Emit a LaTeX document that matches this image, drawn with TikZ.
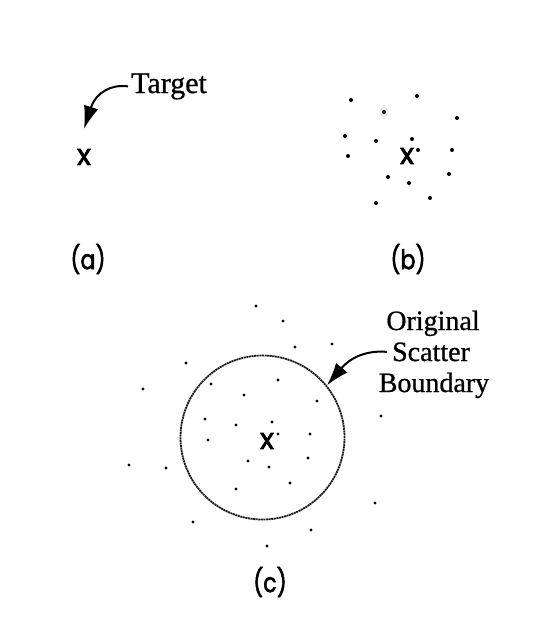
\documentclass[tikz,border=0pt]{standalone}
\usepackage{fontspec}
\setmainfont{Liberation Serif}
\newfontfamily\labfont[FakeBold=2.2]{Poppins}
\newfontfamily\txtfont[FakeBold=0.8]{Liberation Serif}
\usetikzlibrary{arrows.meta}
\tikzset{
  dotm/.style={circle,fill=black,inner sep=0pt,minimum size=4pt},
  xmark/.style={inner sep=0pt,font=\labfont\fontsize{29}{29}\selectfont},
  panel/.style={inner sep=0pt,font=\labfont\fontsize{27}{27}\selectfont},
  serif/.style={inner sep=0pt,font=\txtfont\fontsize{28}{28}\selectfont},
  pointer/.style={line width=2pt,-{Latex[length=23pt,width=15pt]}},
  boundary/.style={circle,draw=black!90,line width=1.8pt,dash pattern=on 2pt off 0.6pt,minimum size=164pt,inner sep=0pt}
}
\begin{document}
\begin{tikzpicture}[x=1pt,y=-1pt]
\useasboundingbox (0,0) rectangle (535,625);
% (a)
\node[xmark] (xa) at (84,157) {x};
\node[serif,anchor=base west,font=\txtfont\fontsize{30}{30}\selectfont] (tgt) at (131,93) {Target};
\coordinate (tgttip) at (84,129);
\draw[pointer] ([xshift=-3pt]tgt.west) .. controls (112,84) and (96,92) .. (tgttip);
\node[panel] (la) at (88,259) {\scalebox{0.82}[1]{(a)}};
% (b)
\node[xmark] (xb) at (407,156) {x};
\foreach \p [count=\i] in {(351,100),(417,96),(384,112),(457,118),(345,136),(376,141),(412,139),(418,150),(452,150),(348,156),(388,177),(449,174),(409,183),(430,198),(376,203)}
  \node[dotm] (b\i) at \p {};
\node[panel] (lb) at (408,259) {\scalebox{0.82}[1]{(b)}};
% (c)
\node[boundary] (bnd) at (262.5,437.5) {};
\node[xmark] (xc) at (267,441) {x};
\foreach \p [count=\i] in {(256,306),(283,321),(295,347),(332,344),(186,363),(143,389),(211,384),(278,380),(244,395),(317,401),(205,419),(236,425),(272,422),(381,416),(208,440),(278,434),(310,434),(129,465),(166,468),(248,461),(308,458),(269,467),(290,483),(236,489),(375,503),(193,522),(311,530),(267,546)}
  \node[dotm,minimum size=3.3pt] (c\i) at \p {};
\node[serif,anchor=base] (orig) at (433,330) {Original};
\node[serif,anchor=base] (scat) at (431,361) {Scatter};
\node[serif,anchor=base] (bound) at (434,392) {Boundary};
\draw[pointer] ([xshift=-5pt]scat.west) .. controls (366,350) and (350,358) .. (bnd.39);
\node[panel] (lc) at (270,582) {\scalebox{0.82}[1]{(c)}};
\end{tikzpicture}
\end{document}
